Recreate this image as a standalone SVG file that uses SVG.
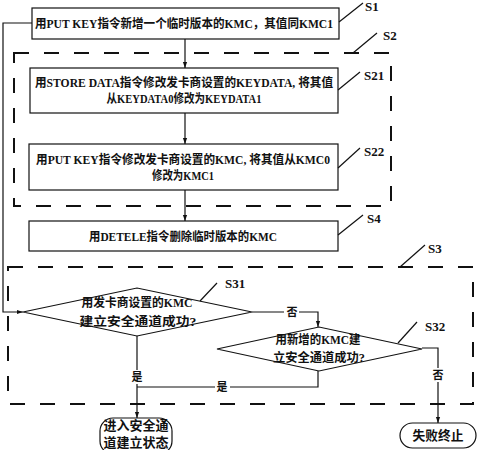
<svg xmlns="http://www.w3.org/2000/svg" width="477" height="450" viewBox="0 0 477 450">
<defs>
<marker id="ah" viewBox="0 0 10 10" refX="10" refY="5" markerWidth="6" markerHeight="10" markerUnits="userSpaceOnUse" orient="auto">
<path d="M0,1.5 L10,5 L0,8.5 Z" fill="#111"/>
</marker>
<style>
.box{fill:#fff;stroke:#111;stroke-width:1.2}
.grp{fill:none;stroke:#111;stroke-width:2;stroke-dasharray:15 15}
.t{font-family:"Liberation Serif","Noto Sans CJK SC",serif;font-size:12.5px;font-weight:bold;fill:#111;text-anchor:middle}
.tc{font-family:"Liberation Serif","Noto Sans CJK SC",serif;font-size:13px;font-weight:bold;fill:#111;text-anchor:middle}
.lbl{font-family:"Liberation Serif",serif;font-size:13px;font-weight:bold;fill:#111}
.ld{stroke:#111;stroke-width:1.2;fill:none}
.c{stroke:#111;stroke-width:1.2;fill:none}
.yn{font-family:"Noto Sans CJK SC",sans-serif;font-size:11px;font-weight:bold;fill:#111;text-anchor:middle}
</style>
</defs>
<rect width="477" height="450" fill="#fff"/>

<g id="S2">
<rect class="grp" x="14" y="53" width="377" height="153"/>
<line class="ld" x1="353" y1="53" x2="377" y2="33"/>
<text class="lbl" x="383" y="40">S2</text>
</g>
<g id="S3">
<rect class="grp" x="8" y="267" width="465" height="137"/>
<line class="ld" x1="400" y1="267" x2="425" y2="245"/>
<text class="lbl" x="428" y="253">S3</text>
</g>

<g id="connectors">
<line class="c" x1="185" y1="39" x2="185" y2="68" marker-end="url(#ah)"/>
<line class="c" x1="185" y1="113" x2="185" y2="144" marker-end="url(#ah)"/>
<line class="c" x1="185" y1="190" x2="185" y2="221" marker-end="url(#ah)"/>
<polyline class="c" points="32,23 3,23 3,312 23,312" marker-end="url(#ah)"/>
<polyline class="c" points="252,312 318,312 318,327" marker-end="url(#ah)"/>
<line class="c" x1="137" y1="335" x2="137" y2="418" marker-end="url(#ah)"/>
<polyline class="c" points="318,371 318,387 137,387"/>
<polyline class="c" points="422,348 438,348 438,423" marker-end="url(#ah)"/>
<rect x="284" y="305" width="15" height="14" fill="#fff"/>
<text class="yn" x="292" y="316">否</text>
<rect x="130" y="370" width="15" height="14" fill="#fff"/>
<text class="yn" x="137" y="381">是</text>
<rect x="215" y="380" width="15" height="14" fill="#fff"/>
<text class="yn" x="222" y="391">是</text>
<rect x="431" y="368" width="15" height="14" fill="#fff"/>
<text class="yn" x="438" y="379">否</text>
</g>

<g id="S1">
<rect class="box" x="32" y="8" width="307" height="31"/>
<text class="t" x="184" y="28" textLength="298" lengthAdjust="spacingAndGlyphs">用PUT  KEY指令新增一个临时版本的KMC，其值同KMC1</text>
<line class="ld" x1="339" y1="22" x2="363" y2="3"/>
<text class="lbl" x="365" y="11">S1</text>
</g>
<g id="S21">
<rect class="box" x="30" y="68" width="308" height="45"/>
<text class="t" x="184" y="87" textLength="298" lengthAdjust="spacingAndGlyphs">用STORE DATA指令修改发卡商设置的KEYDATA, 将其值</text>
<text class="t" x="184" y="103" textLength="155" lengthAdjust="spacingAndGlyphs">从KEYDATA0修改为KEYDATA1</text>
<line class="ld" x1="338" y1="90" x2="360" y2="72"/>
<text class="lbl" x="364" y="80">S21</text>
</g>
<g id="S22">
<rect class="box" x="29" y="144" width="309" height="46"/>
<text class="t" x="183" y="164" textLength="294" lengthAdjust="spacingAndGlyphs">用PUT  KEY指令修改发卡商设置的KMC, 将其值从KMC0</text>
<text class="t" x="183" y="180" textLength="62" lengthAdjust="spacingAndGlyphs">修改为KMC1</text>
<line class="ld" x1="338" y1="168" x2="360" y2="148"/>
<text class="lbl" x="364" y="156">S22</text>
</g>
<g id="S4">
<rect class="box" x="29" y="221" width="309" height="30"/>
<text class="t" x="183" y="241" textLength="188" lengthAdjust="spacingAndGlyphs">用DETELE指令删除临时版本的KMC</text>
<line class="ld" x1="338" y1="235" x2="363" y2="215"/>
<text class="lbl" x="367" y="223">S4</text>
</g>
<g id="S31">
<polygon class="box" points="23,312 137,288 252,312 137,336"/>
<text class="t" x="137" y="307" textLength="111" lengthAdjust="spacingAndGlyphs">用发卡商设置的KMC</text>
<text class="t" x="138" y="326" textLength="117" lengthAdjust="spacingAndGlyphs">建立安全通道成功?</text>
<line class="ld" x1="200" y1="301" x2="217" y2="283"/>
<text class="lbl" x="225" y="288">S31</text>
</g>
<g id="S32">
<polygon class="box" points="217,349 319,327 422,349 319,371"/>
<text class="t" x="318" y="344" textLength="85" lengthAdjust="spacingAndGlyphs">用新增的KMC建</text>
<text class="t" x="319" y="362" textLength="92" lengthAdjust="spacingAndGlyphs">立安全通道成功?</text>
<line class="ld" x1="398" y1="343" x2="417" y2="322"/>
<text class="lbl" x="425" y="331">S32</text>
</g>
<g id="enter">
<rect class="box" x="100" y="418" width="72" height="36" rx="13"/>
<text class="tc" x="136" y="430" textLength="65" lengthAdjust="spacingAndGlyphs">进入安全通</text>
<text class="tc" x="136" y="447" textLength="65" lengthAdjust="spacingAndGlyphs">道建立状态</text>
</g>
<g id="fail">
<rect class="box" x="400" y="423" width="76" height="25" rx="12.5"/>
<text class="tc" x="438" y="440" textLength="51" lengthAdjust="spacingAndGlyphs">失败终止</text>
</g>
</svg>
